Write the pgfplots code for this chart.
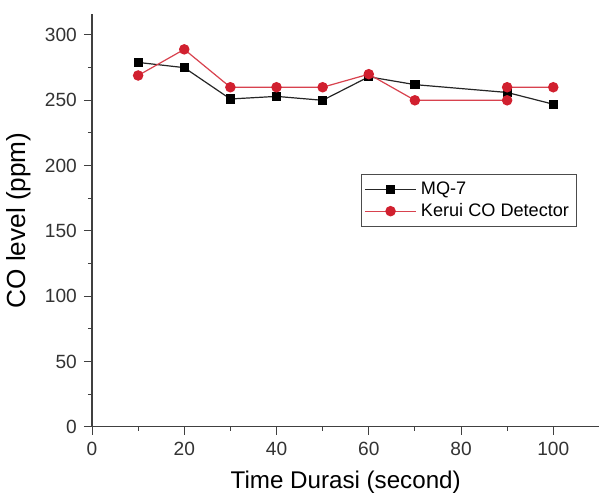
\documentclass[border=0pt]{standalone}
\usepackage{fontspec}
\setmainfont{Liberation Sans}
\usepackage{pgfplots}
\pgfplotsset{compat=1.18}
\definecolor{keruiRed}{HTML}{D1202F}

\begin{document}
\begin{tikzpicture}
\begin{axis}[
  scale only axis,
  width=252pt,
  height=205pt,
  xmin=0, xmax=110,
  ymin=0, ymax=316,
  axis x line*=bottom,
  axis y line*=left,
  axis line style={draw=black!75, line width=0.6pt},
  xtick={0,20,...,100},
  ytick={0,50,...,300},
  minor x tick num=1,
  minor y tick num=1,
  tick align=outside,
  major tick length=4pt,
  minor tick length=2pt,
  tick style={draw=black!75, line width=0.5pt},
  ticklabel style={font=\fontsize{9.5}{11}\selectfont, text=black!80},
  /pgf/number format/assume math mode=true,
  xlabel={Time Durasi (second)},
  ylabel={CO level (ppm)},
  xlabel style={font=\fontsize{12}{14}\selectfont, yshift=-1pt},
  ylabel style={font=\fontsize{13}{15}\selectfont, yshift=0pt},
  legend style={at={(0.955,0.613)}, anchor=north east,
    font=\fontsize{9}{10}\selectfont, draw=black!70, line width=0.5pt,
    inner sep=1.5pt, row sep=-1pt},
  legend cell align=left,
  legend image code/.code={
    \draw[mark repeat=2, mark phase=2, #1]
      plot coordinates {(0cm,0cm) (0.45cm,0cm) (0.9cm,0cm)};},
  clip=false,
]
\addplot[black!85, line width=0.6pt, mark=square*, mark size=2pt,
  mark options={fill=black, draw=black}]
  coordinates {(10,279) (20,275) (30,251) (40,253) (50,250) (60,268) (70,262) (90,256) (100,247)};
\addlegendentry{MQ-7}
\addplot[keruiRed!85, line width=0.6pt, mark=*, mark size=2.3pt,
  mark options={fill=keruiRed, draw=keruiRed}]
  coordinates {(10,269) (20,289) (30,260) (40,260) (50,260) (60,270) (70,250) (90,250) (90,260) (100,260)};
\addlegendentry{Kerui CO Detector}
\path (rel axis cs:0,1) ++(0,7pt);
\end{axis}
\end{tikzpicture}
\end{document}
